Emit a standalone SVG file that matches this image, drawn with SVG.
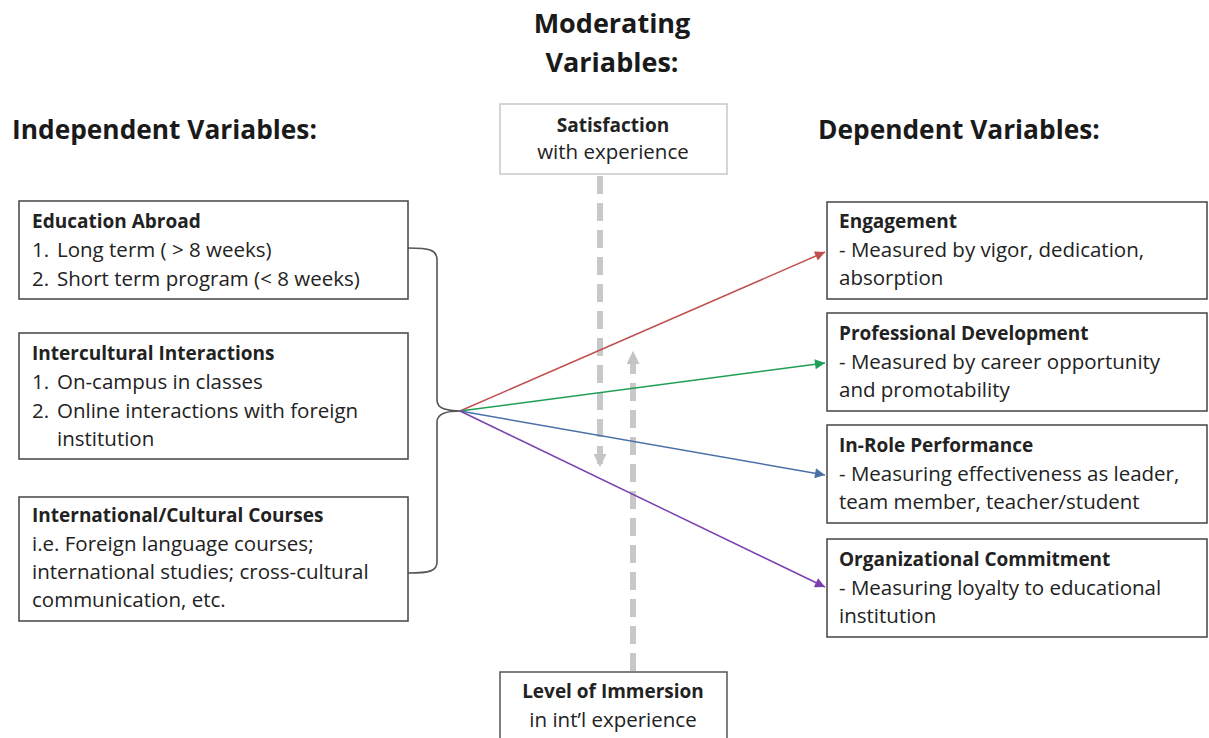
<svg xmlns="http://www.w3.org/2000/svg" width="1209" height="738" viewBox="0 0 1209 738">
<style>
text{font-family:"Open Sans","Noto Sans",sans-serif;fill:#222}
.h{font-size:27px;font-weight:bold;fill:#1a1a1a}
.hs{font-size:26.3px}
.b{font-size:19px;font-weight:bold}
.t{font-size:20.5px}
.m{text-anchor:middle}
.box{fill:#fff;stroke:#444;stroke-width:1.5}
.lbox{fill:#fff;stroke:#c8c8c8;stroke-width:1.5}
.dash{fill:none;stroke:#c8c8c8;stroke-width:6;stroke-dasharray:18 9}
</style>
<defs>
<marker id="ag" markerUnits="userSpaceOnUse" viewBox="0 0 12 12" refX="11" refY="6" markerWidth="13" markerHeight="13" orient="auto"><path d="M0,0 L12,6 L0,12 Z" fill="#c4c4c4"/></marker>
<marker id="ar" markerUnits="userSpaceOnUse" viewBox="0 0 10 10" refX="10" refY="5" markerWidth="11" markerHeight="10" orient="auto"><path d="M0,0 L10,5 L0,10 Z" fill="#c0504d"/></marker>
<marker id="agr" markerUnits="userSpaceOnUse" viewBox="0 0 10 10" refX="10" refY="5" markerWidth="11" markerHeight="10" orient="auto"><path d="M0,0 L10,5 L0,10 Z" fill="#1f9e55"/></marker>
<marker id="ab" markerUnits="userSpaceOnUse" viewBox="0 0 10 10" refX="10" refY="5" markerWidth="11" markerHeight="10" orient="auto"><path d="M0,0 L10,5 L0,10 Z" fill="#4a70a8"/></marker>
<marker id="ap" markerUnits="userSpaceOnUse" viewBox="0 0 10 10" refX="10" refY="5" markerWidth="11" markerHeight="10" orient="auto"><path d="M0,0 L10,5 L0,10 Z" fill="#7a3fb0"/></marker>
</defs>

<g id="titles">
<text class="h m" x="612" y="33">Moderating</text>
<text class="h m" x="612" y="72">Variables:</text>
<text class="h hs" x="12" y="139">Independent Variables:</text>
<text class="h hs" x="818" y="139">Dependent Variables:</text>
</g>

<g id="connectors">
<path class="dash" d="M600,176 V466" marker-end="url(#ag)"/>
<path class="dash" d="M633,671 V352" marker-end="url(#ag)"/>
<path d="M408,248 C430,248 437,250 437,260 V400 C437,408 445,411 462,411 C445,411 437,414 437,422 V562 C437,571 430,573 408,573" fill="none" stroke="#555" stroke-width="1.6"/>
<line x1="460" y1="411" x2="825" y2="252" stroke="#c0504d" stroke-width="1.5" marker-end="url(#ar)"/>
<line x1="460" y1="411" x2="825" y2="363" stroke="#1f9e55" stroke-width="1.5" marker-end="url(#agr)"/>
<line x1="460" y1="411" x2="825" y2="475" stroke="#4a70a8" stroke-width="1.5" marker-end="url(#ab)"/>
<line x1="460" y1="411" x2="825" y2="587" stroke="#7a3fb0" stroke-width="1.5" marker-end="url(#ap)"/>
</g>

<g id="satisfaction">
<rect class="lbox" x="500" y="104" width="227" height="70"/>
<text class="b m" x="613" y="132">Satisfaction</text>
<text class="t m" x="613" y="159">with experience</text>
</g>

<g id="immersion">
<rect class="box" x="500" y="672" width="227" height="80" style="stroke:#555"/>
<text class="b m" x="613" y="698">Level of Immersion</text>
<text class="t m" x="613" y="727">in int’l experience</text>
</g>

<g id="education-abroad">
<rect class="box" x="19" y="201" width="389" height="98"/>
<text class="b" x="32" y="228">Education Abroad</text>
<text class="t" x="32" y="257">1.</text><text class="t" x="57" y="257">Long term ( &gt; 8 weeks)</text>
<text class="t" x="32" y="286">2.</text><text class="t" x="57" y="286">Short term program (&lt; 8 weeks)</text>
</g>

<g id="intercultural">
<rect class="box" x="19" y="333" width="389" height="126"/>
<text class="b" x="32" y="360">Intercultural Interactions</text>
<text class="t" x="32" y="389">1.</text><text class="t" x="57" y="389">On-campus in classes</text>
<text class="t" x="32" y="418">2.</text><text class="t" x="57" y="418">Online interactions with foreign</text>
<text class="t" x="57" y="446">institution</text>
</g>

<g id="courses">
<rect class="box" x="19" y="497" width="389" height="124"/>
<text class="b" x="32" y="522">International/Cultural Courses</text>
<text class="t" x="32" y="551">i.e. Foreign language courses;</text>
<text class="t" x="32" y="579">international studies; cross-cultural</text>
<text class="t" x="32" y="607">communication, etc.</text>
</g>

<g id="engagement">
<rect class="box" x="827" y="202" width="380" height="97"/>
<text class="b" x="839" y="228">Engagement</text>
<text class="t" x="839" y="257">- Measured by vigor, dedication,</text>
<text class="t" x="839" y="285">absorption</text>
</g>

<g id="professional">
<rect class="box" x="827" y="313" width="380" height="98"/>
<text class="b" x="839" y="340">Professional Development</text>
<text class="t" x="839" y="369">- Measured by career opportunity</text>
<text class="t" x="839" y="397">and promotability</text>
</g>

<g id="inrole">
<rect class="box" x="827" y="425" width="380" height="98"/>
<text class="b" x="839" y="452">In-Role Performance</text>
<text class="t" x="839" y="481">- Measuring effectiveness as leader,</text>
<text class="t" x="839" y="509">team member, teacher/student</text>
</g>

<g id="commitment">
<rect class="box" x="827" y="539" width="380" height="98"/>
<text class="b" x="839" y="566">Organizational Commitment</text>
<text class="t" x="839" y="595">- Measuring loyalty to educational</text>
<text class="t" x="839" y="623">institution</text>
</g>
</svg>
